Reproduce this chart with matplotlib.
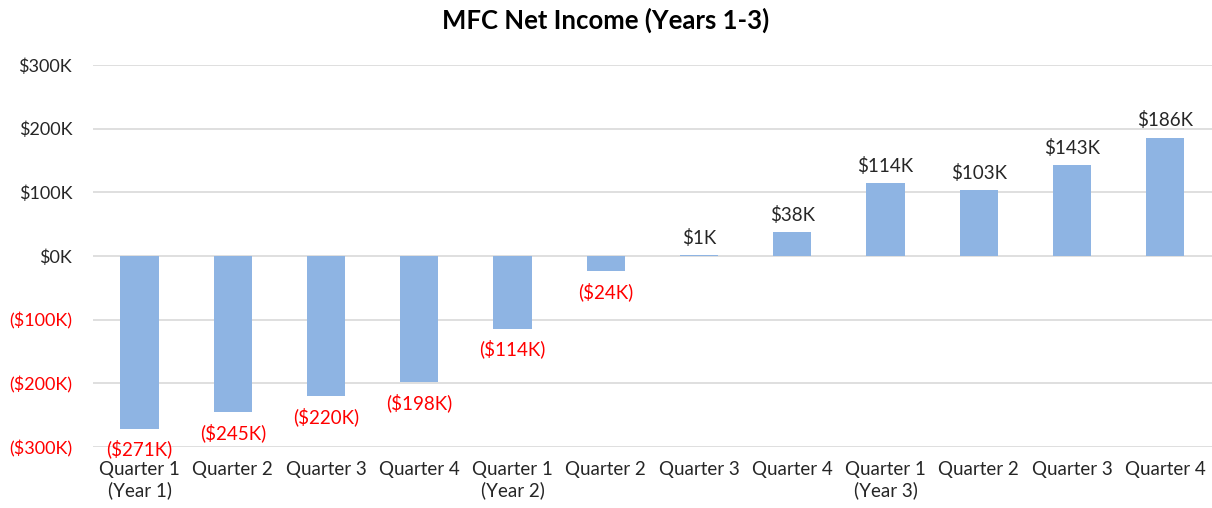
import matplotlib
matplotlib.use("Agg")
import matplotlib.pyplot as plt

plt.rcParams['font.family'] = ['Lato', 'DejaVu Sans']

## data
quarters = ["Quarter 1\n(Year 1)", "Quarter 2", "Quarter 3", "Quarter 4",
            "Quarter 1\n(Year 2)", "Quarter 2", "Quarter 3", "Quarter 4",
            "Quarter 1\n(Year 3)", "Quarter 2", "Quarter 3", "Quarter 4"]
net_income = [-271, -245, -220, -198, -114, -24, 1, 38, 114, 103, 143, 186]  # $K
yticks = [-300, -200, -100, 0, 100, 200, 300]

def fmt(v):
    if v < 0:
        return "(${}K)".format(-v)
    return "${}K".format(v)

fig = plt.figure(figsize=(12.12, 5.08), dpi=100)
ax = fig.add_axes([0.0767, 0.12, 0.9233, 0.752])

x = list(range(len(quarters)))
ax.bar(x, net_income, width=0.41, color='#8EB4E3', zorder=3)

for xi, v in zip(x, net_income):
    if v < 0:
        ax.annotate(fmt(v), (xi, v), xytext=(0, -8), textcoords='offset points',
                    ha='center', va='top', fontsize=13.5, color='#FF0000')
    else:
        ax.annotate(fmt(v), (xi, v), xytext=(0, 6), textcoords='offset points',
                    ha='center', va='bottom', fontsize=13.5, color='#262626')

ax.set_xlim(-0.5, len(quarters) - 0.5)
ax.set_ylim(-300, 300)
ax.set_yticks(yticks)
ax.set_yticklabels([fmt(t) for t in yticks])
for lbl, t in zip(ax.get_yticklabels(), yticks):
    lbl.set_color('#FF0000' if t < 0 else '#262626')
ax.set_xticks(x)
ax.set_xticklabels(quarters, fontsize=13.5, color='#262626')
ax.tick_params(axis='y', labelsize=13, length=0, pad=15)
ax.tick_params(axis='x', length=0, pad=10)

ax.grid(axis='y', color='#D9D9D9', linewidth=1.2, zorder=0)
for s in ax.spines.values():
    s.set_visible(False)

fig.suptitle('MFC Net Income (Years 1-3)', fontsize=18.5, fontweight='bold',
             y=0.985, color='#000000')

fig.savefig('out.png', dpi=100)
